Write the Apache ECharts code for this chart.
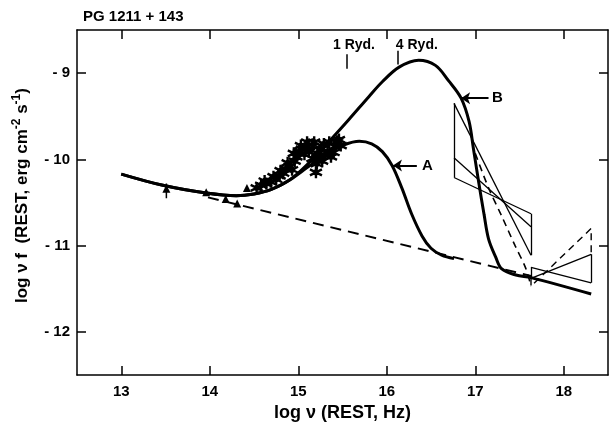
<!DOCTYPE html>
<html><head><meta charset="utf-8">
<script src="https://cdn.jsdelivr.net/npm/echarts@6/dist/echarts.min.js"></script>
<style>html,body{margin:0;padding:0;background:#fff}#c{width:609px;height:427px}</style>
</head><body><div id="c"></div>
<script>
// ---------- data ----------
const chartTitle = 'PG 1211 + 143';
const xTickValues = [13, 14, 15, 16, 17, 18];
const yTickValues = [-12, -11, -10, -9];

// low-frequency power law shared by both models
const commonCurve = [[13.00,-10.17],[13.47,-10.30],[13.96,-10.39],[14.30,-10.42],[14.50,-10.40],[14.69,-10.35],[14.90,-10.24]];
// model A
const curveA = [[15.12,-10.08],[15.35,-9.92],[15.52,-9.83],[15.69,-9.79],[15.83,-9.82],[15.95,-9.91],[16.06,-10.07],[16.17,-10.33],[16.28,-10.63],[16.40,-10.89],[16.50,-11.03],[16.62,-11.11],[16.76,-11.15]];
// model B (+ solid continuation of the power law)
const curveB = [[15.12,-10.04],[15.35,-9.79],[15.57,-9.54],[15.80,-9.27],[15.95,-9.10],[16.14,-8.93],[16.36,-8.85],[16.55,-8.91],[16.70,-9.09],[16.84,-9.29],[16.93,-9.56],[16.98,-9.88],[17.04,-10.27],[17.10,-10.64],[17.15,-10.92],[17.23,-11.13],[17.30,-11.27],[17.46,-11.34],[17.63,-11.37],[18.31,-11.56]];
// extrapolated power law (dashed)
const powerLawDashed = [[13.98,-10.44],[17.63,-11.35]];
// dashed steep X-ray slope and dashed hard bowtie edge
const dashedSteep = [[17.00,-9.93],[17.15,-10.33],[17.30,-10.66],[17.45,-11.00],[17.57,-11.26],[17.63,-11.47]];
const dashedBowtie = [[17.63,-11.38],[17.63,-11.47],[18.31,-10.80],[18.31,-11.10]];
// soft X-ray bowtie: x of both ends, y at left / right of each of the three slopes
const softBowtieX = [16.76, 17.63];
const softBowtieLeftY = [-9.35, -9.98, -10.21];
const softBowtieRightY = [-11.11, -10.78, -10.63];
// hard X-ray bowtie
const hardBowtieX = [17.63, 18.31];
const hardBowtieLeftY = [-11.25, -11.38];
const hardBowtieRightY = [-11.43, -11.10];

// observations
const triangles = [[13.51,-10.34],[13.96,-10.38],[14.18,-10.46],[14.31,-10.51],[14.42,-10.33]];
const errorBar = [[13.51,-10.28],[13.51,-10.45]];
const stars = [[14.53,-10.33],[14.58,-10.30],[14.62,-10.25],[14.64,-10.28],[14.69,-10.26],[14.72,-10.20],[14.75,-10.23],[14.79,-10.19],[14.80,-10.13],[14.83,-10.16],[14.86,-10.11],[14.88,-10.04],[14.90,-10.08],[14.93,-10.12],[14.95,-9.93],[14.96,-10.02],[14.98,-9.97],[15.01,-9.91],[15.03,-9.84],[15.04,-9.88],[15.07,-9.94],[15.09,-9.85],[15.10,-9.80],[15.12,-9.91],[15.16,-9.99],[15.16,-9.85],[15.18,-9.80],[15.20,-10.15],[15.21,-10.05],[15.22,-9.93],[15.24,-9.97],[15.26,-9.88],[15.27,-10.02],[15.29,-9.82],[15.30,-9.95],[15.33,-9.91],[15.35,-9.80],[15.37,-9.97],[15.40,-9.92],[15.41,-9.85],[15.44,-9.79],[15.46,-9.77],[15.48,-9.84]];

// Rydberg markers
const rydNames = ['1 Ryd.', '4 Ryd.'];
const rydX = [15.55, 16.12];
const rydTop = [-8.78, -8.74];
const rydBottom = [-8.95, -8.90];
const rydLabelX = [15.63, 16.34];
const rydLabelY = -8.67;

// model labels with arrows
const modelNames = ['A', 'B'];
const arrowFrom = [[16.34,-10.07],[17.15,-9.29]];
const arrowTo = [[16.07,-10.07],[16.84,-9.29]];
const modelLabelPos = [[16.46,-10.07],[17.25,-9.29]];

// ---------- chart ----------
const FONT = '"Liberation Sans", Arial, sans-serif';
const black = '#000';

function segs(x, ly, ry) {
  const out = [];
  for (let i = 0; i < ly.length; i++) out.push({coords: [[x[0], ly[i]], [x[1], ry[i]]]});
  out.push({coords: [[x[0], Math.max(...ly)], [x[0], Math.min(...ly)]]});
  out.push({coords: [[x[1], Math.max(...ry)], [x[1], Math.min(...ry)]]});
  return out;
}

const axisCommonX = {
  type: 'value', min: 12.5, max: 18.5,
  axisLine: {show: true, onZero: false, lineStyle: {color: black, width: 1.5}},
  axisTick: {inside: true, length: 9, customValues: xTickValues, lineStyle: {color: black, width: 1.5}},
  splitLine: {show: false}
};
const axisCommonY = {
  type: 'value', min: -12.5, max: -8.5,
  axisLine: {show: true, onZero: false, lineStyle: {color: black, width: 1.5}},
  axisTick: {inside: true, length: 9, customValues: yTickValues, lineStyle: {color: black, width: 1.5}},
  splitLine: {show: false}
};
const txt = {fontFamily: FONT, fontWeight: 'bold', color: '#000'};

const chart = echarts.init(document.getElementById('c'), null, {renderer: 'canvas'});
chart.setOption({
  animation: false,
  backgroundColor: '#fff',
  title: {text: chartTitle, left: 78, top: 4, textStyle: Object.assign({fontSize: 15}, txt)},
  grid: {left: 77, right: 1, top: 30, bottom: 43},
  xAxis: [
    Object.assign({}, axisCommonX, {
      position: 'bottom',
      axisLabel: Object.assign({customValues: xTickValues, fontSize: 15, margin: 9}, txt),
      name: 'log ν (REST, Hz)', nameLocation: 'middle', nameGap: 20,
      nameTextStyle: Object.assign({fontSize: 18}, txt)
    }),
    Object.assign({}, axisCommonX, {position: 'top', axisLabel: {show: false}})
  ],
  yAxis: [
    Object.assign({}, axisCommonY, {
      position: 'left',
      axisLabel: Object.assign({customValues: yTickValues, fontSize: 15, margin: 7,
        formatter: v => (v < 0 ? '- ' + Math.abs(v) : String(v))}, txt),
      name: 'log ν f  (REST, erg cm{s|-2} s{s|-1})', nameLocation: 'middle', nameRotate: 90, nameGap: 44,
      nameTextStyle: Object.assign({fontSize: 17, padding: [0, 0, 0, 14],
        rich: {s: Object.assign({fontSize: 12, verticalAlign: 'top', padding: [0, 0, 10, 0]}, txt)}}, txt)
    }),
    Object.assign({}, axisCommonY, {position: 'right', axisLabel: {show: false}})
  ],
  series: [
    {name: 'A', type: 'line', data: commonCurve.concat(curveA), smooth: 0.35, showSymbol: false, symbol: 'none',
      lineStyle: {color: black, width: 3}, z: 3},
    {name: 'B', type: 'line', data: commonCurve.concat(curveB), smooth: 0.35, showSymbol: false, symbol: 'none',
      lineStyle: {color: black, width: 3}, z: 3},
    {name: 'power law', type: 'line', data: powerLawDashed, showSymbol: false, symbol: 'none',
      lineStyle: {color: black, width: 2, type: [11, 7]}, z: 2},
    {name: 'dashed slope', type: 'line', data: dashedSteep, smooth: 0.3, showSymbol: false, symbol: 'none',
      lineStyle: {color: black, width: 1.6, type: [7, 5]}, z: 2},
    {name: 'dashed bowtie', type: 'line', data: dashedBowtie, showSymbol: false, symbol: 'none',
      lineStyle: {color: black, width: 1.4, type: [7, 5]}, z: 2},
    {name: 'soft X-ray', type: 'lines', coordinateSystem: 'cartesian2d',
      data: segs(softBowtieX, softBowtieLeftY, softBowtieRightY), lineStyle: {color: black, width: 1.3, opacity: 1}, z: 2},
    {name: 'hard X-ray', type: 'lines', coordinateSystem: 'cartesian2d',
      data: segs(hardBowtieX, hardBowtieLeftY, hardBowtieRightY), lineStyle: {color: black, width: 1.3, opacity: 1}, z: 2},
    {name: 'error', type: 'line', data: errorBar, showSymbol: false, symbol: 'none', lineStyle: {color: black, width: 1.5}, z: 4},
    {name: 'IR', type: 'scatter', data: triangles, symbol: 'triangle', symbolSize: 8, itemStyle: {color: black, opacity: 1}, z: 5},
    {name: 'opt/UV', type: 'scatter', data: stars,
      symbol: 'path://M0,-6L0,6M-5.2,-3L5.2,3M-5.2,3L5.2,-3M-2,-2L2,2M-2,2L2,-2', symbolSize: 12,
      itemStyle: {color: 'rgba(0,0,0,0)', borderColor: black, borderWidth: 2.4, opacity: 1}, z: 5},
    {name: 'Ryd ticks', type: 'lines', coordinateSystem: 'cartesian2d',
      data: rydX.map((x, i) => ({coords: [[x, rydTop[i]], [x, rydBottom[i]]]})), lineStyle: {color: black, width: 1.5, opacity: 1}, z: 4},
    {name: 'Ryd labels', type: 'scatter', symbolSize: 0, silent: true, itemStyle: {opacity: 1},
      data: rydLabelX.map((x, i) => ({value: [x, rydLabelY], name: rydNames[i]})),
      label: Object.assign({show: true, position: 'inside', formatter: p => p.name, fontSize: 14}, txt), z: 4},
    {name: 'arrows', type: 'lines', coordinateSystem: 'cartesian2d', symbol: ['none', 'arrow'], symbolSize: 9,
      data: arrowFrom.map((p, i) => ({coords: [p, arrowTo[i]]})), lineStyle: {color: black, width: 2, opacity: 1}, z: 4},
    {name: 'model labels', type: 'scatter', symbolSize: 0, silent: true, itemStyle: {opacity: 1},
      data: modelLabelPos.map((p, i) => ({value: p, name: modelNames[i]})),
      label: Object.assign({show: true, position: 'inside', formatter: p => p.name, fontSize: 15}, txt), z: 4}
  ]
});
</script></body></html>
